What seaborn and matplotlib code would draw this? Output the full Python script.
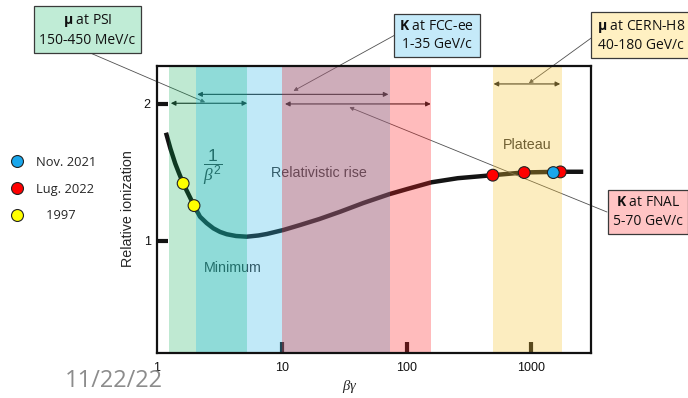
import matplotlib
matplotlib.use("Agg")
import matplotlib.pyplot as plt
import seaborn as sns
import pandas as pd
from matplotlib.lines import Line2D

# ---------------- data ----------------
curve_bg = [1.18, 1.28, 1.4, 1.5, 1.62, 1.8, 1.98, 2.21, 2.5, 2.83, 3.2, 3.62, 4.3, 5.24,
            6.5, 7.6, 10.3, 14.1, 20, 29.5, 45, 73, 102, 158, 257, 490, 870, 1700, 2600]
curve_val = [1.79, 1.675, 1.565, 1.495, 1.42, 1.335, 1.258, 1.177, 1.13, 1.092, 1.066, 1.049,
             1.036, 1.031, 1.04, 1.051, 1.08, 1.117, 1.16, 1.214, 1.277, 1.342, 1.38, 1.428,
             1.458, 1.48, 1.50, 1.505, 1.505]

point_bg = [1.62, 1.98, 490, 875, 1706, 1497]
point_val = [1.42, 1.258, 1.48, 1.499, 1.504, 1.499]
point_series = ["1997", "1997", "Lug. 2022", "Lug. 2022", "Lug. 2022", "Nov. 2021"]
legend_series = ["Nov. 2021", "Lug. 2022", "1997"]
legend_labels = ["Nov. 2021", "Lug. 2022", "   1997"]

band_lo = [1.25, 2.06, 5.28, 10, 73, 490]
band_hi = [2.06, 5.28, 10, 73, 158, 1760]

range_lo = [2.1, 1.29, 10.6, 497]
range_hi = [71.5, 5.28, 156, 1700]
range_val = [2.07, 2.005, 2.0, 2.146]

callout_text = ["$\\mathbf{\\mu}$ at PSI\n150-450 MeV/c",
                "$\\mathbf{K}$ at FCC-ee\n1-35 GeV/c",
                "$\\mathbf{\\mu}$ at CERN-H8\n40-180 GeV/c",
                "$\\mathbf{K}$ at FNAL\n5-70 GeV/c"]
callout_target_bg = [2.43, 12.4, 953, 34.8]
callout_target_val = [2.012, 2.095, 2.151, 1.976]

region_labels = [r"$\dfrac{1}{\beta^2}$", "Minimum", "Relativistic rise", "Plateau"]
region_bg = [2.77, 4.08, 20, 920]
region_val = [1.54, 0.803, 1.496, 1.70]

x_ticks = [1, 10, 100, 1000]
x_tick_labels = ["1", "10", "100", "1000"]
y_ticks = [1, 2]
y_tick_labels = ["1", "2"]
x_label = r"$\beta\gamma$"
y_label = "Relative ionization"
date_text = "11/22/22"

# ---------------- styles ----------------
sns.set_style("white")
plt.rcParams["font.family"] = ["Liberation Sans", "DejaVu Sans"]
plt.rcParams["mathtext.fontset"] = "custom"
plt.rcParams["mathtext.rm"] = "Liberation Sans"
plt.rcParams["mathtext.it"] = "Liberation Serif:italic"
plt.rcParams["mathtext.bf"] = "Open Sans:bold"

band_colors = [(0, 171, 79), (17, 180, 172), (52, 185, 232), (159, 93, 119), (255, 32, 35), (248, 197, 52)]
band_alpha = [0.25, 0.47, 0.30, 0.50, 0.30, 0.31]
callout_fc = ["#c0ecd6", "#c5eaf9", "#fff0c2", "#ffc4c4"]
callout_pos_px = [(87.5, 30), (437, 35.5), (641, 35.5), (648, 212)]
callout_start_px = [(88, 52), (395, 35), (594, 36), (607, 212)]
series_colors = {"Nov. 2021": "#1aa7ec", "Lug. 2022": "#ff0000", "1997": "#ffff00"}

W, H = 688, 398
fig = plt.figure(figsize=(W / 100, H / 100), dpi=100)
ax = fig.add_axes([157 / W, (H - 353) / H, (591 - 157) / W, (353 - 66) / H])

# curve
df_curve = pd.DataFrame({"bg": curve_bg, "val": curve_val})
sns.lineplot(data=df_curve, x="bg", y="val", color="#141414", lw=3.2, ax=ax, zorder=2,
             solid_capstyle="butt", solid_joinstyle="round")

# region labels
for lab, xb, yv in zip(region_labels, region_bg, region_val):
    ax.text(xb, yv, lab, ha="center", va="center", color="#333333",
            fontsize=12.5 if lab.startswith("$") else 10.3, zorder=2)

# range arrows
for lo, hi, yv in zip(range_lo, range_hi, range_val):
    ax.annotate("", xy=(hi, yv), xytext=(lo, yv),
                arrowprops=dict(arrowstyle="<|-|>", color="#1e1e1e", lw=0.8,
                                mutation_scale=7, shrinkA=0, shrinkB=0), zorder=2)

# bands (overlay)
for lo, hi, c, a in zip(band_lo, band_hi, band_colors, band_alpha):
    ax.axvspan(lo, hi, color=tuple(v / 255 for v in c), alpha=a, lw=0, zorder=3)

# callout connectors and boxes
for (sx, sy), tx, ty in zip(callout_start_px, callout_target_bg, callout_target_val):
    ax.annotate("", xy=(tx, ty), xycoords="data", xytext=(sx, H - sy),
                textcoords="figure pixels", annotation_clip=False,
                arrowprops=dict(arrowstyle="-|>", color="#505050", lw=0.6,
                                mutation_scale=6, shrinkA=0, shrinkB=0), zorder=2.8)
for txt, (px, py), fc in zip(callout_text, callout_pos_px, callout_fc):
    fig.text(px / W, (H - py) / H, txt, ha="center", va="center", fontsize=10,
             family=["Open Sans", "DejaVu Sans"], linespacing=1.3, color="#111111",
             bbox=dict(boxstyle="square,pad=0.38", fc=fc, ec="#3a3a3a", lw=0.9))

# data points
df_pts = pd.DataFrame({"bg": point_bg, "val": point_val, "series": point_series})
sns.scatterplot(data=df_pts, x="bg", y="val", hue="series", palette=series_colors,
                s=72, edgecolor="#222222", linewidth=0.8, legend=False, ax=ax,
                zorder=6, clip_on=False)

# axes
ax.set_xscale("log")
ax.set_xlim(1, 3000)
ax.set_ylim(0.182, 2.277)
ax.set_xticks(x_ticks)
ax.set_xticklabels(x_tick_labels)
ax.set_yticks(y_ticks)
ax.set_yticklabels(y_tick_labels)
ax.minorticks_off()
ax.tick_params(axis="both", which="major", direction="in", length=8, width=3,
               color=(0.08, 0.08, 0.08), labelsize=9, labelcolor="#111111",
               bottom=True, left=True, top=False, right=False)
ax.tick_params(axis="x", pad=6.5)
ax.tick_params(axis="y", pad=4.5)
ax.xaxis.get_major_ticks()[0].tick1line.set_visible(False)
for s in ax.spines.values():
    s.set_visible(True)
    s.set_color("#111111")
    s.set_linewidth(1.6)
    s.set_zorder(5)
ax.set_xlabel(x_label, fontsize=10.5)
ax.xaxis.set_label_coords((350 - 157) / 434, -(378 - 353) / 287)
ax.set_ylabel(y_label, fontsize=10.3)
ax.yaxis.set_label_coords(-0.05, 0.503)
ax.grid(False)

# legend
handles = [Line2D([], [], ls="none", marker="o", ms=8.6, mfc=series_colors[s],
                  mec="#222222", mew=0.8) for s in legend_series]
fig.legend(handles, legend_labels, loc="upper left", bbox_to_anchor=(10.5 / W, (H - 156) / H),
           frameon=False, handlelength=1.0, handletextpad=1.0, labelspacing=1.05,
           borderpad=0, borderaxespad=0,
           prop=dict(family=["Open Sans", "DejaVu Sans"], size=9.3))

# footer date
fig.text(65 / W, (H - 387) / H, date_text, ha="left", va="baseline", fontsize=17,
         color="#8c8c8c", family=["Open Sans", "DejaVu Sans"])

fig.savefig("out.png", dpi=100)
